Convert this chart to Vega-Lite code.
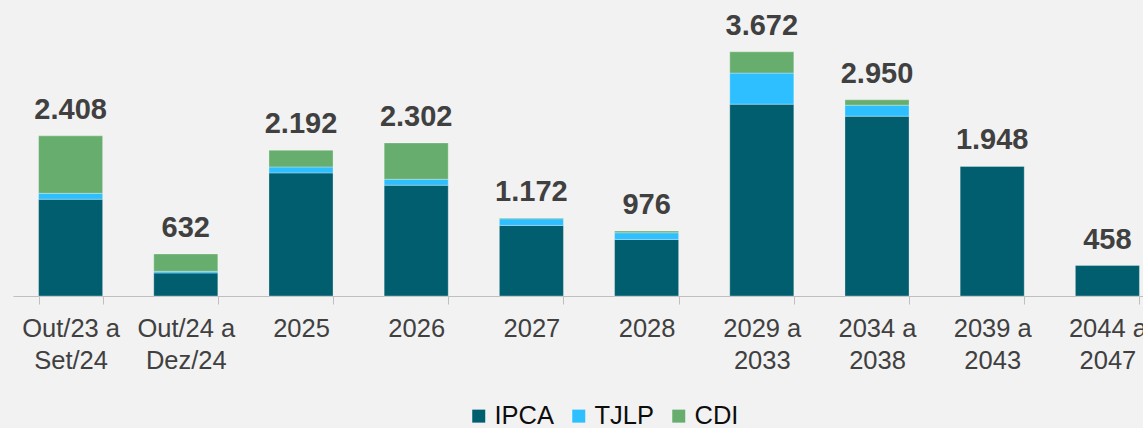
{
  "$schema": "https://vega.github.io/schema/vega-lite/v6.json",
  "width": 1152,
  "height": 266,
  "autosize": {"type": "none"},
  "padding": {"left": 13, "top": 30, "right": 0, "bottom": 132},
  "background": "#f2f2f2",
  "config": {
    "view": {"stroke": null},
    "locale": {"number": {"decimal": ",", "thousands": ".", "grouping": [3], "currency": ["R$", ""]}},
    "font": "Liberation Sans"
  },
  "data": {
    "values": [
      {"cat": "Out/23 a|Set/24", "serie": "IPCA", "ord": 1, "value": 1455},
      {"cat": "Out/23 a|Set/24", "serie": "TJLP", "ord": 2, "value": 90},
      {"cat": "Out/23 a|Set/24", "serie": "CDI", "ord": 3, "value": 863},
      {"cat": "Out/24 a|Dez/24", "serie": "IPCA", "ord": 1, "value": 346},
      {"cat": "Out/24 a|Dez/24", "serie": "TJLP", "ord": 2, "value": 26},
      {"cat": "Out/24 a|Dez/24", "serie": "CDI", "ord": 3, "value": 260},
      {"cat": "2025", "serie": "IPCA", "ord": 1, "value": 1851},
      {"cat": "2025", "serie": "TJLP", "ord": 2, "value": 90},
      {"cat": "2025", "serie": "CDI", "ord": 3, "value": 251},
      {"cat": "2026", "serie": "IPCA", "ord": 1, "value": 1666},
      {"cat": "2026", "serie": "TJLP", "ord": 2, "value": 90},
      {"cat": "2026", "serie": "CDI", "ord": 3, "value": 546},
      {"cat": "2027", "serie": "IPCA", "ord": 1, "value": 1062},
      {"cat": "2027", "serie": "TJLP", "ord": 2, "value": 100},
      {"cat": "2027", "serie": "CDI", "ord": 3, "value": 10},
      {"cat": "2028", "serie": "IPCA", "ord": 1, "value": 851},
      {"cat": "2028", "serie": "TJLP", "ord": 2, "value": 100},
      {"cat": "2028", "serie": "CDI", "ord": 3, "value": 25},
      {"cat": "2029 a|2033", "serie": "IPCA", "ord": 1, "value": 2885},
      {"cat": "2029 a|2033", "serie": "TJLP", "ord": 2, "value": 467},
      {"cat": "2029 a|2033", "serie": "CDI", "ord": 3, "value": 320},
      {"cat": "2034 a|2038", "serie": "IPCA", "ord": 1, "value": 2704},
      {"cat": "2034 a|2038", "serie": "TJLP", "ord": 2, "value": 166},
      {"cat": "2034 a|2038", "serie": "CDI", "ord": 3, "value": 80},
      {"cat": "2039 a|2043", "serie": "IPCA", "ord": 1, "value": 1948},
      {"cat": "2044 a|2047", "serie": "IPCA", "ord": 1, "value": 458}
    ]
  },
  "encoding": {
    "x": {
      "field": "cat",
      "type": "nominal",
      "sort": ["Out/23 a|Set/24", "Out/24 a|Dez/24", "2025", "2026", "2027", "2028", "2029 a|2033", "2034 a|2038", "2039 a|2043", "2044 a|2047"],
      "scale": {"paddingInner": 0.444, "paddingOuter": 0.222},
      "axis": {
        "title": null,
        "labelAngle": 0,
        "labelExpr": "split(datum.label, '|')",
        "labelFontSize": 25.5,
        "labelColor": "#404040",
        "labelBaseline": "alphabetic",
        "labelLineHeight": 31.6,
        "labelPadding": 32.7,
        "tickSize": 8,
        "tickBand": "extent",
        "tickColor": "#bfbfbf",
        "domainColor": "#bfbfbf",
        "labelOverlap": false,
        "labelBound": false
      }
    }
  },
  "layer": [
    {
      "mark": {"type": "bar", "stroke": "#ffffff", "strokeWidth": 0.6, "strokeOpacity": 0.5},
      "encoding": {
        "y": {"field": "value", "type": "quantitative", "stack": "zero", "scale": {"domain": [0, 4000]}, "axis": null},
        "color": {
          "field": "serie",
          "type": "nominal",
          "scale": {"domain": ["IPCA", "TJLP", "CDI"], "range": ["#005e6e", "#2dbfff", "#67ae6e"]},
          "legend": {
            "title": null,
            "orient": "none",
            "direction": "horizontal",
            "legendX": 453,
            "legendY": 373,
            "symbolType": "square",
            "symbolSize": 169,
            "symbolStrokeWidth": 0,
            "labelFontSize": 25.5,
            "labelColor": "#0d0d0d",
            "labelOffset": 3,
            "columnPadding": 11
          }
        },
        "order": {"field": "ord", "type": "quantitative"}
      }
    },
    {
      "mark": {"type": "text", "baseline": "alphabetic", "dy": -17, "fontSize": 29, "fontWeight": "bold", "color": "#404040"},
      "encoding": {
        "y": {"aggregate": "sum", "field": "value", "type": "quantitative"},
        "text": {"aggregate": "sum", "field": "value", "type": "quantitative", "format": ",d"}
      }
    }
  ]
}
